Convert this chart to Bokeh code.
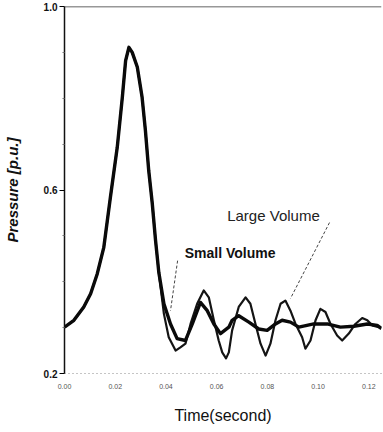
from bokeh.plotting import figure
from bokeh.models import FixedTicker, PrintfTickFormatter, Span, Label
from bokeh.embed import file_html
from bokeh.resources import INLINE

# shared pressure pulse (both volumes overlap here)
t_common = [0.0, 0.0037, 0.0076, 0.0103, 0.0129, 0.0155, 0.0181, 0.0208, 0.0228,
            0.0241, 0.0254, 0.0267, 0.0287, 0.0306, 0.0319, 0.0332, 0.0346, 0.0359,
            0.0372]
p_common = [0.301, 0.316, 0.345, 0.374, 0.417, 0.475, 0.584, 0.693, 0.802,
            0.882, 0.911, 0.900, 0.868, 0.802, 0.730, 0.643, 0.571, 0.490,
            0.420]

# large volume tail (larger oscillation)
t_large_tail = [0.0392, 0.0411, 0.0438, 0.0457, 0.0477, 0.0497, 0.0523, 0.0549, 0.0569,
                0.0589, 0.0608, 0.0622, 0.0637, 0.0648, 0.0661, 0.0687, 0.0714, 0.0733,
                0.0753, 0.0773, 0.0793, 0.0812, 0.0832, 0.0852, 0.0871, 0.0891, 0.0911,
                0.0937, 0.0950, 0.0970, 0.0990, 0.1009, 0.1029, 0.1049, 0.1075, 0.1095,
                0.1121, 0.1147, 0.1174, 0.1194, 0.1213, 0.1239, 0.1250]
p_large_tail = [0.330, 0.279, 0.250, 0.257, 0.265, 0.308, 0.352, 0.381, 0.366,
                0.316, 0.272, 0.246, 0.233, 0.246, 0.294, 0.345, 0.366, 0.352,
                0.308, 0.265, 0.239, 0.265, 0.316, 0.352, 0.359, 0.337, 0.308,
                0.279, 0.254, 0.272, 0.316, 0.341, 0.334, 0.308, 0.283, 0.272,
                0.287, 0.308, 0.321, 0.316, 0.305, 0.301, 0.301]

# small volume tail (damped)
t_small_tail = [0.0392, 0.0418, 0.0444, 0.0477, 0.0504, 0.0536, 0.0563, 0.0589, 0.0615,
                0.0648, 0.0661, 0.0687, 0.0727, 0.0766, 0.0799, 0.0832, 0.0858, 0.0891,
                0.0924, 0.0983, 0.1036, 0.1088, 0.1141, 0.1194, 0.1233, 0.1250]
p_small_tail = [0.352, 0.308, 0.276, 0.272, 0.308, 0.355, 0.337, 0.308, 0.287,
                0.301, 0.316, 0.326, 0.312, 0.297, 0.294, 0.308, 0.316, 0.312,
                0.301, 0.308, 0.308, 0.301, 0.303, 0.308, 0.305, 0.298]

x_ticks = [0.0, 0.02, 0.04, 0.06, 0.08, 0.10, 0.12]
y_ticks = [0.2, 0.6, 1.0]
y_minor = [0.3, 0.4, 0.5, 0.7, 0.8, 0.9]

# annotation anchors (data units)
large_label = ("Large Volume", 0.0824, 0.544)
large_leader_t = [0.1045, 0.0891]
large_leader_p = [0.529, 0.3635]
small_label = ("Small Volume", 0.0653, 0.463)
small_leader_t = [0.0446, 0.0418]
small_leader_p = [0.446, 0.337]

FONT = "Liberation Sans"

p = figure(width=383, height=432, x_range=(0, 0.125), y_range=(0.2, 1.0),
           output_backend="svg", toolbar_location=None,
           min_border_left=64, min_border_right=2, min_border_top=6, min_border_bottom=59)
p.outline_line_color = None
p.xgrid.visible = False
p.ygrid.visible = False

t_large = t_common + t_large_tail
p_large = p_common + p_large_tail
t_small = t_common + t_small_tail
p_small = p_common + p_small_tail

p.line(t_large, p_large, line_color="#141414", line_width=2.2, line_join="round")
p.line(t_small, p_small, line_color="#0a0a0a", line_width=3.4, line_join="round")

p.line(large_leader_t, large_leader_p, line_color="#444444", line_width=1, line_dash="3 2")
p.line(small_leader_t, small_leader_p, line_color="#444444", line_width=1, line_dash="3 2")

p.add_layout(Label(x=large_label[1], y=large_label[2], text=large_label[0],
                   text_font=FONT, text_font_size="15px", text_color="#222222",
                   text_align="center", text_baseline="middle"))
p.add_layout(Label(x=small_label[1], y=small_label[2], text=small_label[0],
                   text_font=FONT, text_font_size="14px", text_font_style="bold",
                   text_color="#111111", text_align="center", text_baseline="middle"))

p.add_layout(Span(location=1.0, dimension="width", line_color="#333333", line_width=1.5))

xa = p.xaxis[0]
xa.ticker = FixedTicker(ticks=x_ticks)
xa.formatter = PrintfTickFormatter(format="%.2f")
xa.axis_line_color = "#8a8a8a"
xa.axis_line_dash = "1 3"
xa.major_tick_line_color = None
xa.minor_tick_line_color = None
xa.major_label_text_font = FONT
xa.major_label_text_font_size = "7px"
xa.major_label_text_color = "#555555"
xa.major_label_standoff = 4
xa.axis_label = "Time(second)"
xa.axis_label_text_font = FONT
xa.axis_label_text_font_size = "16px"
xa.axis_label_text_font_style = "normal"
xa.axis_label_text_color = "#111111"
xa.axis_label_standoff = 15

ya = p.yaxis[0]
ya.ticker = FixedTicker(ticks=y_ticks, minor_ticks=y_minor)
ya.formatter = PrintfTickFormatter(format="%.1f")
ya.axis_line_color = "#111111"
ya.axis_line_width = 1.5
ya.major_tick_in = 0
ya.major_tick_out = 5
ya.minor_tick_in = 0
ya.minor_tick_out = 2
ya.minor_tick_line_color = "#777777"
ya.major_label_text_font = FONT
ya.major_label_text_font_size = "10px"
ya.major_label_text_font_style = "bold"
ya.major_label_text_color = "#111111"
ya.major_label_standoff = 2
ya.axis_label = "Pressure [p.u.]"
ya.axis_label_text_font = FONT
ya.axis_label_text_font_size = "15px"
ya.axis_label_text_font_style = "bold italic"
ya.axis_label_text_color = "#111111"
ya.axis_label_standoff = 20

open("out.html", "w").write(file_html(p, INLINE))
